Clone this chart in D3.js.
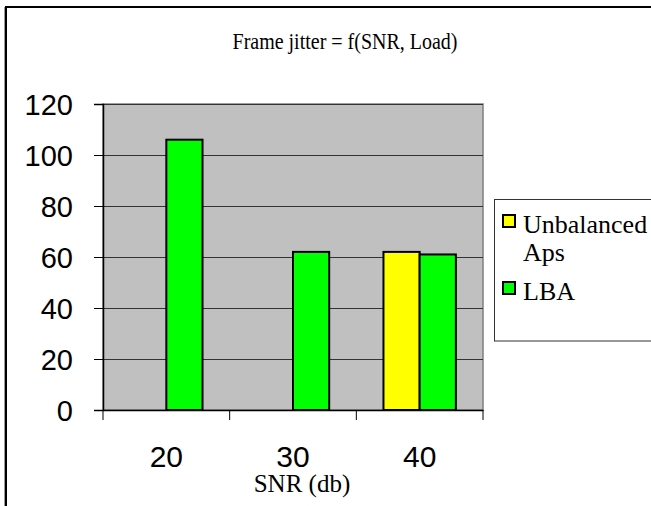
<!DOCTYPE html>
<html>
<head>
<meta charset="utf-8">
<script src="https://cdn.jsdelivr.net/npm/d3@7"></script>
<style>
  html, body { margin: 0; padding: 0; background: #fff; }
  svg { display: block; }
</style>
</head>
<body>
<svg id="chart" width="651" height="506"></svg>
<script>
const categories = ["20", "30", "40"];
const seriesNames = ["Unbalanced Aps", "LBA"];
const unbalancedValues = [0, 0, 62];
const lbaValues = [106, 62, 61];
const yTicks = [0, 20, 40, 60, 80, 100, 120];
const seriesColors = ["#ffff00", "#00ff00"];

const svg = d3.select("#chart");
const plot = { left: 103, right: 483, top: 104, bottom: 410 };

// outer frame
svg.append("rect").attr("x", 6).attr("y", 7).attr("width", 700).attr("height", 600)
  .attr("fill", "none").attr("stroke", "#000").attr("stroke-width", 2);
svg.append("line").attr("x1", 4.5).attr("x2", 4.5).attr("y1", 7).attr("y2", 506)
  .attr("stroke", "#999").attr("stroke-width", 1);

const x0 = d3.scaleBand().domain(categories).range([plot.left, plot.right]).padding(0);
const bw = x0.bandwidth();
const gapFrac = 0.75 / 3.5;
const x1 = d3.scaleBand().domain(seriesNames).range([bw * gapFrac, bw - bw * gapFrac]).padding(0);
const y = d3.scaleLinear().domain([0, 120]).range([plot.bottom, plot.top]);

// plot background
svg.append("rect").attr("x", plot.left).attr("y", plot.top)
  .attr("width", plot.right - plot.left).attr("height", plot.bottom - plot.top)
  .attr("fill", "#c0c0c0").attr("stroke", "#808080").attr("stroke-width", 1.5);

// gridlines
svg.append("g").selectAll("line").data(yTicks.filter(d => d > 0)).join("line")
  .attr("x1", plot.left).attr("x2", plot.right)
  .attr("y1", d => Math.round(y(d)) + 0.5).attr("y2", d => Math.round(y(d)) + 0.5)
  .attr("stroke", "#333").attr("stroke-width", 1);

// bars
const data = categories.map((c, i) => ({ cat: c, vals: [unbalancedValues[i], lbaValues[i]] }));
const groups = svg.append("g").selectAll("g").data(data).join("g")
  .attr("transform", d => `translate(${x0(d.cat)},0)`);
groups.selectAll("rect").data(d => d.vals.map((v, j) => ({ name: seriesNames[j], v, j })).filter(e => e.v > 0))
  .join("rect")
  .attr("x", e => x1(e.name))
  .attr("y", e => y(e.v))
  .attr("width", x1.bandwidth())
  .attr("height", e => y(0) - y(e.v))
  .attr("fill", e => seriesColors[e.j])
  .attr("stroke", "#000").attr("stroke-width", 2);

// y axis
const yAxis = d3.axisLeft(y).tickValues(yTicks).tickSize(9).tickPadding(21);
const yg = svg.append("g").attr("transform", `translate(${plot.left},0)`).call(yAxis);
yg.select(".domain").attr("stroke", "#000").attr("stroke-width", 1.5);
yg.selectAll(".tick line").attr("stroke", "#000");
yg.selectAll("text").attr("font-family", "Liberation Sans, Arial, sans-serif")
  .attr("font-size", 29).attr("fill", "#000").attr("dy", "0.36em");

// x axis
const xAxis = d3.axisBottom(x0).tickSize(0).tickPadding(0);
const xg = svg.append("g").attr("transform", `translate(0,${plot.bottom})`).call(xAxis);
xg.select(".domain").attr("stroke", "#000").attr("stroke-width", 1.5);
xg.selectAll("text").attr("font-family", "Liberation Sans, Arial, sans-serif")
  .attr("font-size", 30).attr("fill", "#000").attr("dy", 0).attr("y", 57);
// category separator ticks
const sepTicks = [x0.range()[0]].concat(categories.map(c => x0(c) + bw));
xg.selectAll("line.sep").data(sepTicks).join("line").attr("class", "sep")
  .attr("x1", d => d).attr("x2", d => d).attr("y1", 0).attr("y2", 10)
  .attr("stroke", "#000").attr("stroke-width", 1);

// title
svg.append("text").attr("x", 345).attr("y", 49).attr("text-anchor", "middle")
  .attr("font-family", "Liberation Serif, Times New Roman, serif").attr("font-size", 20)
  .attr("transform", "translate(0,-6) scale(1,1.12)")
  .text("Frame jitter = f(SNR, Load)");

// x axis title
svg.append("text").attr("x", 302).attr("y", 492).attr("text-anchor", "middle")
  .attr("font-family", "Liberation Serif, Times New Roman, serif").attr("font-size", 25)
  .text("SNR (db)");

// legend
const leg = svg.append("g");
leg.append("rect").attr("x", 494.5).attr("y", 199.5).attr("width", 200).attr("height", 141.5)
  .attr("fill", "#fff").attr("stroke", "#333").attr("stroke-width", 1);
const legItems = [
  { lines: ["Unbalanced", "Aps"], color: seriesColors[0], y: 233 },
  { lines: ["LBA"], color: seriesColors[1], y: 300 }
];
legItems.forEach(it => {
  leg.append("rect").attr("x", 503).attr("y", it.y - 18).attr("width", 12).attr("height", 12)
    .attr("fill", it.color).attr("stroke", "#000").attr("stroke-width", 2);
  const t = leg.append("text").attr("x", 523).attr("y", it.y)
    .attr("font-family", "Liberation Serif, Times New Roman, serif").attr("font-size", 26);
  it.lines.forEach((ln, k) => {
    t.append("tspan").attr("x", 523).attr("y", it.y + k * 28).text(ln);
  });
});
</script>
</body>
</html>
